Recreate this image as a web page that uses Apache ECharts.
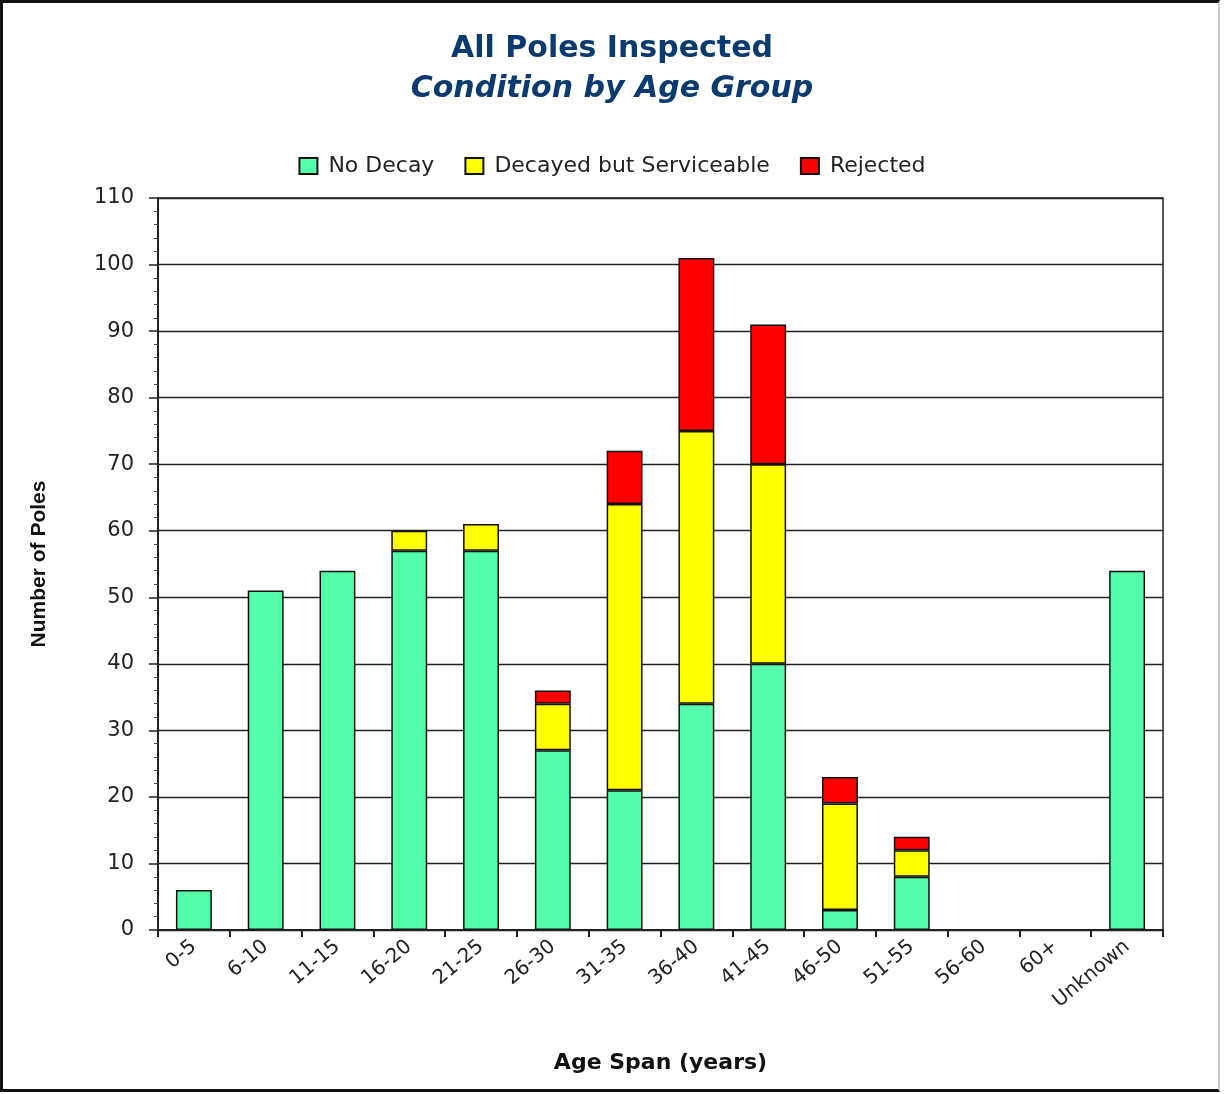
<!DOCTYPE html>
<html>
<head>
<meta charset="utf-8">
<title>All Poles Inspected</title>
<script src="https://cdn.jsdelivr.net/npm/echarts@6/dist/echarts.min.js"></script>
<style>
  html, body { margin: 0; padding: 0; background: #fff; }
  #chart { position: absolute; left: 0; top: 0; width: 1224px; height: 1094px; }
  #frame {
    position: absolute; left: 0; top: 0; width: 1220px; height: 1092px;
    box-sizing: border-box; pointer-events: none;
    border-left: 3px solid #111; border-top: 3px solid #111;
    border-bottom: 3px solid #111; border-right: 2px solid #ccc;
  }
</style>
</head>
<body>
<div id="chart"></div>
<div id="frame"></div>
<script>
const categories = ['0-5', '6-10', '11-15', '16-20', '21-25', '26-30', '31-35',
  '36-40', '41-45', '46-50', '51-55', '56-60', '60+', 'Unknown']
const noDecay = [6, 51, 54, 57, 57, 27, 21, 34, 40, 3, 8, 0, 0, 54]
const decayedServiceable = [0, 0, 0, 3, 4, 7, 43, 41, 30, 16, 4, 0, 0, 0]
const rejected = [0, 0, 0, 0, 0, 2, 8, 26, 21, 4, 2, 0, 0, 0]
const seriesNames = ['No Decay', 'Decayed but Serviceable', 'Rejected']
const seriesColors = ['#55ffaa', '#ffff00', '#ff0000']

const chart = echarts.init(document.getElementById('chart'))

// empty segments are skipped so no zero-height outline is drawn
const makeSeries = (name, data, color) => ({
  name: name,
  type: 'bar',
  stack: 'total',
  barWidth: '50%',
  data: data.map(v => (v === 0 ? '-' : v)),
  itemStyle: {
    color: color,
    borderColor: '#111',
    borderWidth: 1.5
  }
})

const option = {
  animation: false,
  title: [
    {
      text: 'All Poles Inspected',
      left: 'center',
      top: 29,
      textStyle: { fontFamily: 'DejaVu Sans', fontWeight: 'bold', fontSize: 30, color: '#0b3a6e' }
    },
    {
      text: 'Condition by Age Group',
      left: 'center',
      top: 69,
      textStyle: { fontFamily: 'DejaVu Sans', fontWeight: 'bold', fontStyle: 'italic', fontSize: 30, color: '#0b3a6e' }
    }
  ],
  legend: {
    top: 150,
    left: 'center',
    icon: 'rect',
    itemWidth: 18,
    itemHeight: 16,
    itemGap: 30,
    textStyle: { fontFamily: 'DejaVu Sans', fontSize: 22, color: '#222', padding: [0, 0, 0, 6] },
    data: seriesNames
  },
  grid: {
    left: 158,
    right: 61,
    top: 198,
    bottom: 164,
    show: true,
    borderColor: '#222',
    borderWidth: 1.5,
    containLabel: false
  },
  xAxis: {
    type: 'category',
    data: categories,
    name: 'Age Span (years)',
    nameLocation: 'middle',
    nameGap: 122,
    nameTextStyle: { fontFamily: 'DejaVu Sans', fontWeight: 'bold', fontSize: 22, color: '#111' },
    axisLine: { lineStyle: { color: '#222', width: 2 } },
    axisTick: { show: true, alignWithLabel: false, length: 7, lineStyle: { color: '#222', width: 2 } },
    axisLabel: {
      rotate: 40,
      margin: 14,
      interval: 0,
      fontFamily: 'DejaVu Sans',
      fontSize: 20,
      color: '#222'
    }
  },
  yAxis: {
    type: 'value',
    min: 0,
    max: 110,
    interval: 10,
    name: 'Number of Poles',
    nameLocation: 'middle',
    nameGap: 108,
    nameTextStyle: { fontFamily: 'Liberation Sans Narrow, Liberation Sans', fontWeight: 'bold', fontSize: 21, color: '#111' },
    axisLine: { show: true, lineStyle: { color: '#222', width: 2 } },
    axisTick: { show: true, length: 9, lineStyle: { color: '#222', width: 1.5 } },
    minorTick: { show: true, splitNumber: 5, length: 4, lineStyle: { color: '#444', width: 1 } },
    axisLabel: { margin: 24, fontFamily: 'DejaVu Sans', fontSize: 21, color: '#222' },
    splitLine: { show: true, lineStyle: { color: '#222', width: 1.3 } }
  },
  series: [
    makeSeries(seriesNames[0], noDecay, seriesColors[0]),
    makeSeries(seriesNames[1], decayedServiceable, seriesColors[1]),
    makeSeries(seriesNames[2], rejected, seriesColors[2])
  ]
}

chart.setOption(option)
</script>
</body>
</html>
